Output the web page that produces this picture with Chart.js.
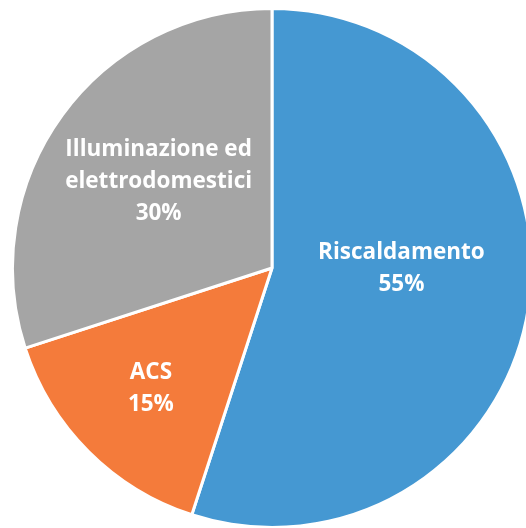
<!DOCTYPE html>
<html>
<head>
<meta charset="utf-8">
<script src="https://cdn.jsdelivr.net/npm/chart.js@4"></script>
<style>
    html, body { margin: 0; padding: 0; background: #fff; overflow: hidden; width: 526px; height: 528px; }
    #pie { position: absolute; left: 11px; top: 7px; }
</style>
</head>
<body>
<canvas id="pie" width="522" height="522"></canvas>
<script>
const categories = ['Riscaldamento', 'ACS', 'Illuminazione ed elettrodomestici'];
const labelLines = [['Riscaldamento'], ['ACS'], ['Illuminazione ed', 'elettrodomestici']];
const values = [55, 15, 30];
const colors = ['#4598d2', '#f47b3b', '#a5a5a5'];

// Etichette dentro le fette (al posto di chartjs-plugin-datalabels)
const sliceLabels = {
    id: 'sliceLabels',
    afterDatasetsDraw(chart, args, opts) {
        const ctx = chart.ctx;
        const meta = chart.getDatasetMeta(0);
        ctx.save();
        ctx.fillStyle = '#fff';
        ctx.font = 'bold 22.5px "Open Sans"';
        ctx.textAlign = 'center';
        ctx.textBaseline = 'middle';
        meta.data.forEach((arc, i) => {
            const mid = (arc.startAngle + arc.endAngle) / 2;
            const r = arc.outerRadius * opts.radius[i];
            const x = arc.x + Math.cos(mid) * r;
            const y = arc.y + Math.sin(mid) * r + opts.shiftY[i];
            const lines = labelLines[i].concat([values[i] + '%']);
            const top = y - (lines.length - 1) * opts.lineHeight / 2;
            lines.forEach((t, k) => ctx.fillText(t, x, top + k * opts.lineHeight));
        });
        ctx.restore();
    }
};

new Chart(document.getElementById('pie'), {
    type: 'pie',
    data: {
        labels: categories,
        datasets: [{
            data: values,
            backgroundColor: colors,
            borderColor: '#fff',
            borderWidth: 3
        }]
    },
    options: {
        responsive: false,
        animation: false,
        layout: { padding: 0 },
        plugins: {
            legend: { display: false },
            tooltip: { enabled: false },
            sliceLabels: { radius: [0.505, 0.66, 0.54], shiftY: [-20, -1, -4], lineHeight: 32 }
        }
    },
    plugins: [sliceLabels]
});
</script>
</body>
</html>
